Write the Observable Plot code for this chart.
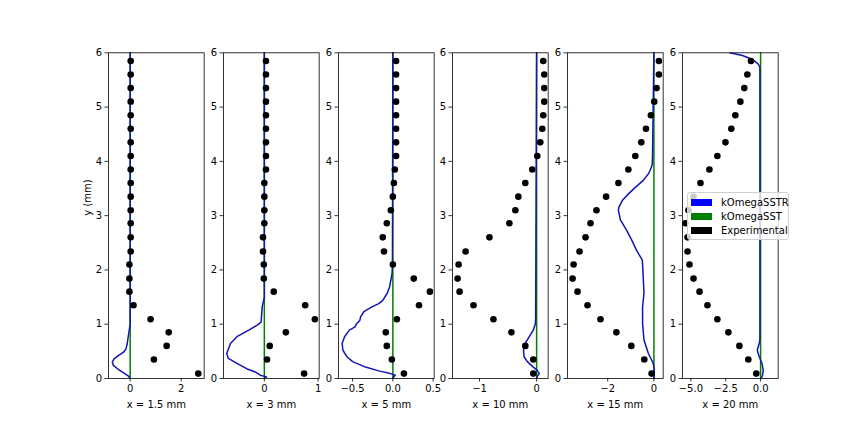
<!DOCTYPE html>
<html><head><meta charset="utf-8">
<script src="https://cdn.jsdelivr.net/npm/d3@7"></script>
<script src="https://cdn.jsdelivr.net/npm/@observablehq/plot@0.6"></script>
<style>
body{margin:0;background:#fff;}
#wrap{position:relative;width:864px;height:432px;overflow:hidden;font-family:"DejaVu Sans";background:#fff;}
#wrap svg{position:absolute;top:0;}
.legend{position:absolute;left:687px;top:192px;width:100px;height:46px;background:rgba(255,255,255,0.8);border:1px solid #d0d0d0;border-radius:3px;font-family:"DejaVu Sans";font-size:10px;color:#000;}
.legend .row{position:absolute;left:3px;height:14px;display:flex;align-items:center;}
.legend .sw{width:21px;height:7px;margin-right:9px;}
</style></head><body><div id="wrap"></div>
<script>
// Shared experimental y positions (mm)
const yExp = [0.09, 0.35, 0.6, 0.85, 1.09, 1.35, 1.6, 1.84, 2.1, 2.34, 2.6, 2.86, 3.1, 3.35, 3.6, 3.85, 4.1, 4.35, 4.6, 4.85, 5.1, 5.35, 5.6, 5.85];

// Panel labels
const panelLabels = ["x = 1.5 mm", "x = 3 mm", "x = 5 mm", "x = 10 mm", "x = 15 mm", "x = 20 mm"];

// Experimental x values per panel (ordered like yExp)
const exp1 = [2.67, 0.93, 1.43, 1.51, 0.80, 0.13, -0.03, -0.03, -0.03, 0.02, 0.02, 0.02, 0.02, 0.02, 0.02, 0.02, 0.02, 0.02, 0.02, 0.02, 0.02, 0.02, 0.02, 0.02];
const exp2 = [0.74, 0.05, 0.10, 0.40, 0.94, 0.76, 0.175, -0.01, -0.01, -0.025, -0.025, 0.0, 0.0, 0.0, 0.0, 0.03, 0.03, 0.03, 0.03, 0.03, 0.03, 0.03, 0.03, 0.03];
const exp3 = [0.1375, -0.0125, -0.075, -0.0875, 0.05, 0.325, 0.46, 0.26, 0.0, -0.11, -0.125, -0.075, -0.025, 0.0, 0.0125, 0.025, 0.04, 0.04, 0.04, 0.04, 0.04, 0.04, 0.04, 0.04];
const exp4 = [-0.058, -0.058, -0.198, -0.442, -0.756, -1.105, -1.349, -1.384, -1.366, -1.244, -0.826, -0.477, -0.372, -0.32, -0.198, -0.076, 0.012, 0.064, 0.099, 0.116, 0.134, 0.134, 0.134, 0.116];
const exp5 = [-0.10, -0.417, -0.977, -1.624, -2.313, -2.874, -3.305, -3.52, -3.477, -3.22, -2.96, -2.744, -2.486, -2.07, -1.537, -1.106, -0.805, -0.546, -0.345, -0.13, 0.014, 0.115, 0.216, 0.216];
const exp6 = [-0.31, -0.88, -1.52, -2.31, -3.10, -3.81, -4.38, -4.81, -5.10, -5.24, -5.24, -5.38, -5.17, -4.81, -4.31, -3.67, -3.10, -2.52, -2.10, -1.81, -1.45, -1.17, -0.95, -0.69];

// kOmegaSSTR profiles (y and x per panel)
const srY1 = [0, 0.05, 0.11, 0.17, 0.24, 0.30, 0.36, 0.42, 0.48, 0.54, 0.63, 0.76, 0.88, 1.0, 6];
const srX1 = [0, -0.08, -0.27, -0.47, -0.66, -0.70, -0.63, -0.47, -0.27, -0.17, -0.12, -0.08, -0.04, 0, 0];
const srY2 = [0, 0.03, 0.06, 0.12, 0.18, 0.28, 0.37, 0.46, 0.645, 0.77, 0.89, 0.98, 1.04, 1.32, 1.5, 6];
const srX2 = [0, 0.04, -0.075, -0.17, -0.33, -0.51, -0.67, -0.70, -0.63, -0.51, -0.29, -0.14, -0.06, -0.04, 0, 0];
const srY3 = [0, 0.03, 0.06, 0.09, 0.14, 0.21, 0.31, 0.40, 0.52, 0.645, 0.77, 0.89, 0.95, 1.01, 1.07, 1.14, 1.23, 1.32, 1.38, 1.44, 1.57, 1.69, 1.93, 2.1, 6];
const srX3 = [0, 0.01, 0.03, -0.03, -0.175, -0.34, -0.50, -0.57, -0.62, -0.63, -0.60, -0.54, -0.47, -0.45, -0.41, -0.40, -0.36, -0.26, -0.175, -0.125, -0.07, -0.04, -0.01, -0.005, 0];
const srY4 = [0, 0.04, 0.09, 0.15, 0.21, 0.31, 0.40, 0.52, 0.645, 0.77, 0.89, 1.01, 1.1, 6];
const srX4 = [0, 0.012, 0.047, 0.012, -0.058, -0.163, -0.22, -0.23, -0.2, -0.128, -0.058, -0.023, -0.017, 0];
const srY5 = [0, 0.18, 0.28, 0.46, 0.71, 1.01, 1.32, 1.57, 1.93, 2.18, 2.36, 2.55, 2.73, 2.92, 3.10, 3.16, 3.29, 3.41, 3.53, 3.65, 3.78, 3.9, 3.96, 4.1, 6];
const srX5 = [0.01, 0.01, -0.03, -0.24, -0.43, -0.49, -0.49, -0.43, -0.47, -0.50, -0.75, -0.96, -1.18, -1.45, -1.54, -1.51, -1.35, -1.08, -0.78, -0.46, -0.22, -0.1, -0.07, -0.06, 0];
const srY6 = [0, 0.06, 0.15, 0.28, 0.40, 0.52, 0.645, 0.71, 5.72, 5.75, 5.8, 5.85, 5.9, 5.95, 6.0];
const srX6 = [0.05, 0.14, 0.19, 0.1, -0.1, -0.24, -0.1, -0.05, -0.05, -0.07, -0.2, -0.45, -0.8, -1.3, -2.2];

// kOmegaSST profile (same in every panel)
const sstY = [0, 6];
const sstX = [0, 0];

// Axis domains and ticks
const xDomains = [[-0.85, 2.9], [-0.76, 1.02], [-0.675, 0.513], [-1.473, 0.202], [-3.74, 0.40], [-5.6, 1.26]];
const xTicks = [[0, 2], [0, 1], [-0.5, 0, 0.5], [-1, 0], [-2, 0], [-5, -2.5, 0]];
const xFormats = ["d", "d", ".1f", "d", "d", ".1f"];
const yTicks = [0, 1, 2, 3, 4, 5, 6];

const expX = [exp1, exp2, exp3, exp4, exp5, exp6];
const srY = [srY1, srY2, srY3, srY4, srY5, srY6];
const srX = [srX1, srX2, srX3, srX4, srX5, srX6];

const wrap = document.getElementById("wrap");
const panelW = 95.66, gap = 19.13, left0 = 108, mL = 40, mR = 12;
const blue = "#1414b4";

for (let i = 0; i < 6; i++) {
  const marks = [
    Plot.line({length: sstY.length}, {x: sstX, y: sstY, stroke: "#008000", strokeWidth: 1.5}),
    Plot.line({length: srY[i].length}, {x: srX[i], y: srY[i], stroke: blue, strokeWidth: 1.5, clip: true}),
    Plot.dot({length: yExp.length}, {x: expX[i], y: yExp, r: 3.3, fill: "black", stroke: "none", clip: true}),
    Plot.frame({stroke: "black", strokeWidth: 0.8}),
    Plot.axisX({ticks: xTicks[i], tickFormat: d3.format(xFormats[i]), tickSize: 3.5, tickPadding: 3, strokeWidth: 0.8, fontSize: 10, label: null}),
    Plot.axisY({ticks: yTicks, tickFormat: d3.format("d"), tickSize: 3.5, tickPadding: 3, strokeWidth: 0.8, fontSize: 10, label: null}),
    Plot.text([panelLabels[i]], {frameAnchor: "bottom", dy: 26, fontSize: 10, lineAnchor: "middle", fill: "black"})
  ];
  if (i === 0) marks.push(Plot.text(["y (mm)"], {frameAnchor: "left", dx: -20.5, rotate: -90, fontSize: 10, fill: "black"}));
  const svg = Plot.plot({
    width: mL + panelW + mR,
    height: 432,
    marginTop: 52.3,
    marginBottom: 54,
    marginLeft: mL,
    marginRight: mR,
    style: {background: "transparent", fontFamily: "DejaVu Sans", fontSize: "10px", overflow: "visible"},
    x: {domain: xDomains[i]},
    y: {domain: [0, 6]},
    marks
  });
  svg.style.left = (left0 + i * (panelW + gap) - mL) + "px";
  wrap.appendChild(svg);
}

// Legend
const legendItems = [["kOmegaSSTR", "#0000ff"], ["kOmegaSST", "#008000"], ["Experimental", "#000000"]];
const lg = document.createElement("div");
lg.className = "legend";
legendItems.forEach(([name, c], k) => {
  const row = document.createElement("div");
  row.className = "row";
  row.style.top = (2 + k * 14) + "px";
  row.innerHTML = `<div class="sw" style="background:${c}"></div><span>${name}</span>`;
  lg.appendChild(row);
});
wrap.appendChild(lg);
</script></body></html>
